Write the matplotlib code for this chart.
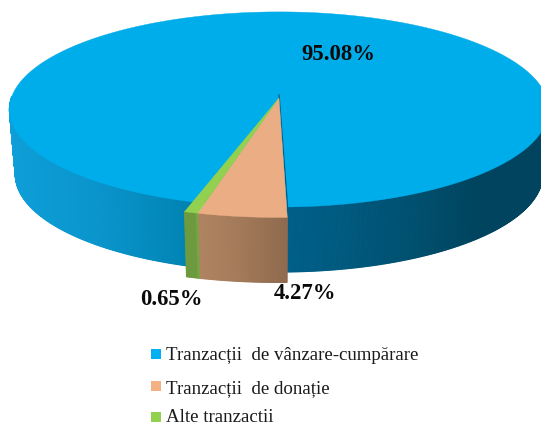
#!/usr/bin/env python3
# -*- coding: utf-8 -*-

import numpy as np
import matplotlib
matplotlib.use("Agg")
import matplotlib.pyplot as plt
from matplotlib.colors import to_rgb

# Data
labels = ["Tranzacții de vânzare-cumpărare", "Tranzacții de donație", "Alte tranzactii"]
values = [95.08, 4.27, 0.65]
value_labels = ["95.08%", "4.27%", "0.65%"]

# Colours
top_colors = ["#00ADEB", "#EBAD84", "#92D050"]
legend_colors = ["#00B0F0", "#F4B183", "#92D050"]

# Rim shading, (pixel x, colour) stops
blue_rim = [(10, "#0E9ED8"), (100, "#0A94CB"), (185, "#0084B4"),
            (290, "#005F88"), (340, "#005A80"), (420, "#004F6E"), (480, "#00445F"), (545, "#00445F")]
orange_rim = [(198, "#B08462"), (240, "#A37A5A"), (290, "#8E694D")]
green_rim = [(184, "#6E9A3F"), (196, "#6E9A3F"), (198, "#7AB244"), (203, "#7AB244")]

# Perspective of the disc, in pixels
CX = 279
CY = 97
RX = 267
RY = 95.7
PERSP = 0.138
DEPTH = 65
BOTTOM_SCALE = 0.978
START = 1.4     # degrees right of the front for the donation slice
EXPLODE = 1.08  # the two small slices are pulled out


def project(radius, angle, bottom=False):
    """Disc coordinates to picture pixels, angle in degrees, 0 = front, positive to the right"""
    a = np.radians(angle)
    u = radius * np.sin(a)
    v = radius * np.cos(a)
    w = 1 - PERSP * v
    x_scale = BOTTOM_SCALE if bottom else 1
    x = CX + RX * x_scale * u / w
    y = CY + RY * v / w
    if bottom:
        y = y + DEPTH
    return x, y


def shade(x, stops):
    xs = [s[0] for s in stops]
    rgb = np.array([to_rgb(s[1]) for s in stops])
    return [np.interp(x, xs, rgb[:, i]) for i in range(3)]


def draw_rim(ax, ang1, ang2, radius, stops, z):
    # thin quads along the arc so the shading follows x, the edge hides the seams
    angs = np.linspace(ang1, ang2, max(int(abs(ang2 - ang1) * 3), 12))
    for i, (a, b) in enumerate(zip(angs[:-1], angs[1:])):
        x1, y1 = project(radius, a)
        x2, y2 = project(radius, b)
        x3, y3 = project(radius, b, bottom=True)
        x4, y4 = project(radius, a, bottom=True)
        c = shade((x1 + x2) / 2, stops)
        ax.fill([x1, x2, x3, x4], [y1, y2, y3, y4], facecolor=c, edgecolor=c, lw=0.8,
                zorder=z + i * 1e-4)


def draw_top(ax, ang1, ang2, radius, color, z):
    angs = np.linspace(ang1, ang2, 400)
    xs, ys = project(radius, angs)
    ax.fill(np.r_[CX, xs], np.r_[CY + 2, ys], color=color, lw=0.3, zorder=z)


fig = plt.figure(figsize=(5.41, 4.27), dpi=100)
ax = fig.add_axes([0, 0, 1, 1])
ax.set_xlim(0, 541)
ax.set_ylim(427, 0)
ax.axis("off")

# Slice angles come from the values, going left from START
orange_end = START - values[1] * 3.6
green_end = orange_end - values[2] * 3.6
blue_end = green_end - values[0] * 3.6

# Only the front half of the big slice shows its rim
draw_rim(ax, -90, green_end, 1, blue_rim, 1)
draw_rim(ax, START, 90, 1, blue_rim, 1)

angs = np.linspace(START, blue_end, 800)
xs, ys = project(1, angs)
ax.fill(np.r_[CX, xs], np.r_[CY, ys], color=top_colors[0], lw=0.3, zorder=2)

# Dark cut edge next to the donation slice
x_e, y_e = project(1, START)
ax.plot([CX, x_e + 1], [CY - 1, y_e], color="#005F88", lw=1.0, zorder=2.5)

draw_rim(ax, orange_end, START, EXPLODE, orange_rim, 3)
draw_top(ax, orange_end, START, EXPLODE, top_colors[1], 4)
draw_rim(ax, green_end, orange_end, EXPLODE, green_rim, 5)
draw_top(ax, green_end, orange_end, EXPLODE, top_colors[2], 6)

# Value labels
label_pos = [(338, 55), (305, 294), (171, 300)]
for txt, pos in zip(value_labels, label_pos):
    ax.text(pos[0], pos[1], txt, family="Liberation Serif", weight="bold", fontsize=16.4,
            color="#0a0a0a", ha="center", va="center", zorder=10)

# Legend
text_y = [360, 393.5, 422.5]
marker_y = [354.5, 387, 418]
for lab, col, y, my in zip(labels, legend_colors, text_y, marker_y):
    ax.scatter([155.5], [my], marker="s", s=60, color=col, linewidths=0, zorder=10)
    ax.text(166, y, lab.replace(" de ", "  de "), family="Liberation Serif", fontsize=13.6,
            color="#1a1a1a", ha="left", va="baseline", zorder=10)

fig.savefig("out.png", dpi=100)
